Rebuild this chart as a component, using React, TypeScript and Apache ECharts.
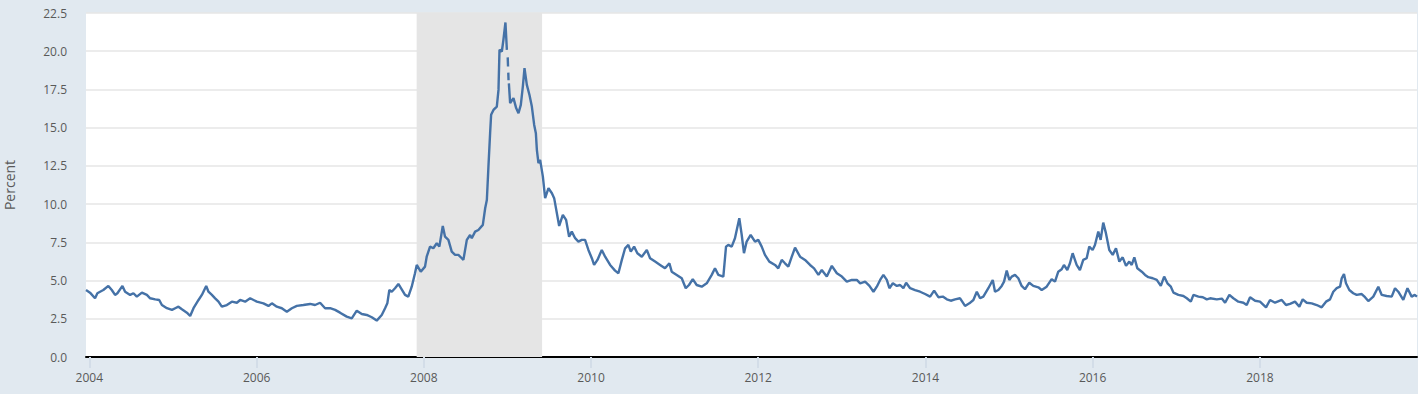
import React, { useEffect, useRef } from "react";
import * as echarts from "echarts";

const obsYears: number[] = [
  2003.960, 2004.008, 2004.068, 2004.096, 2004.128, 2004.167, 2004.227, 2004.268, 2004.307, 2004.335,
  2004.395, 2004.427, 2004.487, 2004.526, 2004.567, 2004.627, 2004.687, 2004.726, 2004.786, 2004.834,
  2004.866, 2004.926, 2004.986, 2005.025, 2005.064, 2005.105, 2005.165, 2005.204, 2005.244, 2005.304,
  2005.344, 2005.396, 2005.423, 2005.464, 2005.503, 2005.543, 2005.583, 2005.643, 2005.703, 2005.763,
  2005.802, 2005.862, 2005.922, 2006.002, 2006.081, 2006.141, 2006.182, 2006.241, 2006.301, 2006.361,
  2006.421, 2006.481, 2006.559, 2006.640, 2006.699, 2006.759, 2006.819, 2006.879, 2006.939, 2006.998,
  2007.078, 2007.138, 2007.198, 2007.258, 2007.318, 2007.378, 2007.437, 2007.497, 2007.537, 2007.564,
  2007.588, 2007.617, 2007.656, 2007.696, 2007.736, 2007.776, 2007.815, 2007.856, 2007.895, 2007.916,
  2007.964, 2008.015, 2008.035, 2008.075, 2008.114, 2008.155, 2008.186, 2008.227, 2008.254, 2008.294,
  2008.334, 2008.374, 2008.413, 2008.454, 2008.473, 2008.514, 2008.553, 2008.573, 2008.613, 2008.652,
  2008.705, 2008.733, 2008.753, 2008.772, 2008.792, 2008.804, 2008.832, 2008.872, 2008.892, 2008.904,
  2008.932, 2008.951, 2008.975, 2008.992, 2008.997, 2009.002, 2009.006, 2009.008, 2009.009, 2009.012,
  2009.014, 2009.016, 2009.031, 2009.071, 2009.103, 2009.131, 2009.159, 2009.183, 2009.203, 2009.231,
  2009.262, 2009.291, 2009.319, 2009.339, 2009.351, 2009.370, 2009.390, 2009.423, 2009.450, 2009.490,
  2009.531, 2009.558, 2009.618, 2009.662, 2009.701, 2009.737, 2009.769, 2009.809, 2009.848, 2009.889,
  2009.928, 2009.968, 2010.009, 2010.036, 2010.076, 2010.128, 2010.168, 2010.228, 2010.287, 2010.327,
  2010.368, 2010.407, 2010.446, 2010.475, 2010.515, 2010.554, 2010.607, 2010.667, 2010.706, 2010.766,
  2010.826, 2010.885, 2010.937, 2010.965, 2011.025, 2011.085, 2011.133, 2011.172, 2011.217, 2011.264,
  2011.324, 2011.384, 2011.444, 2011.483, 2011.523, 2011.583, 2011.615, 2011.642, 2011.683, 2011.722,
  2011.774, 2011.803, 2011.830, 2011.862, 2011.910, 2011.962, 2012.001, 2012.042, 2012.081, 2012.133,
  2012.201, 2012.240, 2012.281, 2012.320, 2012.360, 2012.401, 2012.440, 2012.500, 2012.559, 2012.619,
  2012.667, 2012.719, 2012.759, 2012.819, 2012.879, 2012.939, 2012.999, 2013.058, 2013.118, 2013.178,
  2013.218, 2013.277, 2013.329, 2013.377, 2013.417, 2013.457, 2013.496, 2013.537, 2013.568, 2013.609,
  2013.657, 2013.696, 2013.735, 2013.768, 2013.816, 2013.875, 2013.935, 2013.995, 2014.055, 2014.103,
  2014.154, 2014.207, 2014.255, 2014.302, 2014.354, 2014.414, 2014.473, 2014.525, 2014.573, 2014.614,
  2014.653, 2014.692, 2014.752, 2014.805, 2014.832, 2014.872, 2014.912, 2014.940, 2014.972, 2015.003,
  2015.032, 2015.071, 2015.111, 2015.151, 2015.191, 2015.242, 2015.290, 2015.350, 2015.391, 2015.450,
  2015.510, 2015.550, 2015.589, 2015.630, 2015.657, 2015.697, 2015.729, 2015.761, 2015.809, 2015.848,
  2015.888, 2015.929, 2015.960, 2016.000, 2016.028, 2016.068, 2016.096, 2016.127, 2016.159, 2016.199,
  2016.240, 2016.279, 2016.319, 2016.359, 2016.399, 2016.438, 2016.467, 2016.498, 2016.534, 2016.587,
  2016.626, 2016.666, 2016.718, 2016.766, 2016.814, 2016.854, 2016.893, 2016.934, 2016.965, 2017.024,
  2017.084, 2017.125, 2017.173, 2017.204, 2017.264, 2017.317, 2017.364, 2017.404, 2017.484, 2017.544,
  2017.583, 2017.634, 2017.682, 2017.742, 2017.802, 2017.842, 2017.882, 2017.942, 2018.001, 2018.073,
  2018.121, 2018.181, 2018.261, 2018.312, 2018.360, 2018.420, 2018.472, 2018.512, 2018.560, 2018.620,
  2018.680, 2018.739, 2018.791, 2018.839, 2018.878, 2018.919, 2018.959, 2018.979, 2019.006, 2019.030,
  2019.070, 2019.117, 2019.158, 2019.218, 2019.258, 2019.297, 2019.357, 2019.417, 2019.458, 2019.517,
  2019.577, 2019.617, 2019.656, 2019.716, 2019.766, 2019.816, 2019.853, 2019.880,
];

// Spread in percent (null = missing observation)
const spreadPct: (number | null)[] = [
  4.38, 4.21, 3.84, 4.17, 4.27, 4.38, 4.65, 4.38, 4.06, 4.17,
  4.65, 4.27, 4.06, 4.17, 3.95, 4.21, 4.06, 3.84, 3.77, 3.73,
  3.40, 3.19, 3.08, 3.19, 3.29, 3.12, 2.90, 2.68, 3.19, 3.73,
  4.06, 4.65, 4.27, 4.06, 3.84, 3.62, 3.29, 3.40, 3.62, 3.55,
  3.73, 3.62, 3.84, 3.62, 3.51, 3.34, 3.51, 3.29, 3.19, 2.96,
  3.19, 3.34, 3.40, 3.47, 3.40, 3.55, 3.19, 3.19, 3.08, 2.90,
  2.64, 2.53, 3.03, 2.81, 2.75, 2.60, 2.38, 2.75, 3.19, 3.51,
  4.38, 4.27, 4.50, 4.78, 4.43, 4.06, 3.95, 4.60, 5.48, 6.02,
  5.58, 5.91, 6.56, 7.22, 7.11, 7.44, 7.22, 8.57, 7.87, 7.66,
  6.89, 6.68, 6.68, 6.46, 6.35, 7.66, 7.98, 7.77, 8.20, 8.31,
  8.64, 9.73, 10.27, 12.45, 14.64, 15.84, 16.16, 16.38, 17.47, 20.09,
  19.98, 20.75, 21.88, 20.09, null, 19.60, 19.00, null, 18.60, 18.10,
  null, 17.90, 16.60, 16.93, 16.28, 15.95, 16.49, 17.69, 18.89, 17.80,
  17.15, 16.38, 15.18, 14.64, 13.55, 12.68, 12.89, 11.80, 10.39, 11.04,
  10.71, 10.39, 8.57, 9.29, 8.97, 7.87, 8.20, 7.77, 7.55, 7.66,
  7.66, 7.00, 6.46, 6.02, 6.35, 7.00, 6.56, 6.02, 5.65, 5.48,
  6.35, 7.11, 7.33, 6.89, 7.22, 6.79, 6.56, 7.00, 6.46, 6.24,
  6.02, 5.80, 6.13, 5.58, 5.37, 5.15, 4.50, 4.71, 5.09, 4.71,
  4.60, 4.82, 5.37, 5.80, 5.37, 5.26, 7.22, 7.33, 7.22, 7.77,
  9.08, 7.98, 6.79, 7.55, 7.98, 7.55, 7.66, 7.22, 6.68, 6.24,
  6.02, 5.80, 6.35, 6.13, 5.91, 6.56, 7.15, 6.56, 6.35, 6.02,
  5.80, 5.37, 5.69, 5.26, 5.96, 5.48, 5.26, 4.93, 5.04, 5.04,
  4.82, 4.93, 4.65, 4.27, 4.60, 5.04, 5.37, 5.04, 4.50, 4.82,
  4.65, 4.71, 4.50, 4.86, 4.50, 4.38, 4.27, 4.12, 3.95, 4.34,
  3.91, 3.95, 3.77, 3.68, 3.77, 3.84, 3.34, 3.51, 3.73, 4.27,
  3.84, 3.95, 4.50, 5.04, 4.27, 4.38, 4.65, 4.93, 5.65, 5.04,
  5.26, 5.37, 5.15, 4.65, 4.43, 4.86, 4.65, 4.56, 4.38, 4.60,
  5.09, 4.93, 5.58, 5.74, 6.02, 5.69, 6.13, 6.79, 6.02, 5.69,
  6.35, 6.46, 7.22, 7.00, 7.33, 8.20, 7.66, 8.79, 8.10, 7.00,
  6.68, 7.11, 6.24, 6.52, 5.96, 6.24, 6.02, 6.52, 5.80, 5.58,
  5.37, 5.22, 5.15, 5.04, 4.65, 5.26, 4.82, 4.60, 4.21, 4.06,
  3.99, 3.84, 3.62, 4.06, 3.95, 3.91, 3.77, 3.84, 3.77, 3.82,
  3.55, 4.06, 3.84, 3.62, 3.55, 3.40, 3.91, 3.68, 3.62, 3.25,
  3.73, 3.55, 3.73, 3.40, 3.47, 3.62, 3.29, 3.77, 3.55, 3.51,
  3.40, 3.25, 3.62, 3.77, 4.27, 4.50, 4.60, 5.15, 5.43, 4.82,
  4.38, 4.17, 4.06, 4.12, 3.91, 3.66, 3.95, 4.60, 4.06, 3.99,
  3.95, 4.50, 4.27, 3.73, 4.50, 3.95, 4.06, 3.95,
];

const xTickYears: number[] = [2004, 2006, 2008, 2010, 2012, 2014, 2016, 2018];
const recession: [string, string] = ["2007-12-01", "2009-06-01"];
const xRangeYears: [number, number] = [2003.96, 2019.88];
const yMin = 0;
const yMax = 22.5;
const yStep = 2.5;

function yearToTs(y: number): number {
  const yr = Math.floor(y);
  const a = Date.UTC(yr, 0, 1);
  const b = Date.UTC(yr + 1, 0, 1);
  return a + (y - yr) * (b - a);
}

export default function App() {
  const ref = useRef<HTMLDivElement>(null);

  useEffect(() => {
    document.body.style.margin = "0";
    if (!ref.current) return;
    const chart = echarts.init(ref.current, undefined, { renderer: "svg" });

    const data = obsYears.map((y, i) => [yearToTs(y), spreadPct[i] === null ? "-" : spreadPct[i]]);
    const tickTs = xTickYears.map((y) => Date.UTC(y, 0, 1));
    const textColor = "#595959";
    const font = "'Open Sans', 'Noto Sans', sans-serif";

    chart.setOption({
      animation: false,
      backgroundColor: "#e1e9f0",
      grid: {
        left: 86,
        right: 1,
        top: 13,
        bottom: 37,
        containLabel: false,
        outerBoundsMode: "none",
        show: true,
        backgroundColor: "#ffffff",
        borderWidth: 0,
      },
      xAxis: {
        type: "value",
        min: yearToTs(xRangeYears[0]),
        max: yearToTs(xRangeYears[1]),
        axisLine: { show: true, onZero: false, lineStyle: { color: "#000000", width: 2 } },
        axisTick: {
          show: true,
          customValues: tickTs,
          length: 11,
          lineStyle: { color: "#d3dde8", width: 2 },
        },
        axisLabel: {
          customValues: tickTs,
          formatter: (v: number) => String(new Date(v).getUTCFullYear()),
          color: textColor,
          fontSize: 12,
          fontFamily: font,
          margin: 14,
        },
        splitLine: { show: false },
      },
      yAxis: {
        type: "value",
        min: yMin,
        max: yMax,
        interval: yStep,
        name: "Percent",
        nameLocation: "middle",
        nameGap: 70,
        nameRotate: 90,
        nameTextStyle: { color: textColor, fontSize: 14, fontFamily: font },
        axisLine: { show: false },
        axisTick: { show: false },
        axisLabel: {
          color: textColor,
          fontSize: 12,
          fontFamily: font,
          margin: 19,
          formatter: (v: number) => v.toFixed(1),
        },
        splitLine: { show: true, lineStyle: { color: "#e6e6e6", width: 1.5 } },
      },
      series: [
        {
          type: "line",
          z: 1,
          data: [],
          silent: true,
          markArea: {
            silent: true,
            itemStyle: { color: "#e5e5e5", opacity: 1 },
            data: [[{ xAxis: Date.parse(recession[0]) }, { xAxis: Date.parse(recession[1]) }]],
          },
        },
        {
          type: "line",
          z: 3,
          data,
          showSymbol: false,
          connectNulls: false,
          lineStyle: { color: "#4572a7", width: 2.4 },
          itemStyle: { color: "#4572a7" },
        },
      ],
    });

    return () => chart.dispose();
  }, []);

  return <div ref={ref} style={{ width: 1418, height: 394, position: "absolute", left: 0, top: 0 }} />;
}
